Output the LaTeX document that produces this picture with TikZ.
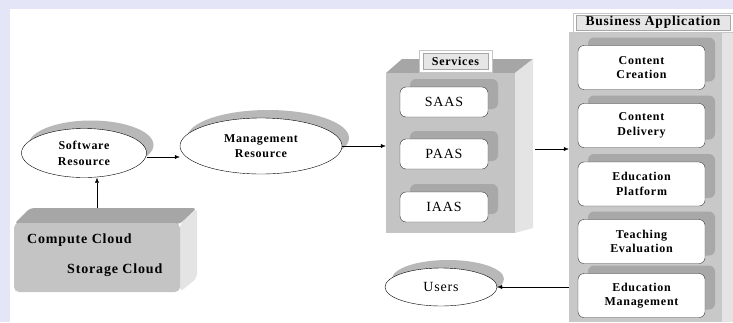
\documentclass[tikz,border=0pt]{standalone}
\usepackage{fontspec}
\setmainfont{Liberation Serif}[LetterSpace=6]
\usetikzlibrary{shapes.geometric,shadows,arrows.meta}

\definecolor{bgtint}{HTML}{E4E6F8}
\definecolor{frontgray}{HTML}{C4C4C4}
\definecolor{topgray}{HTML}{A6A6A6}
\definecolor{sidegray}{HTML}{E4E4E4}
\definecolor{colgray}{HTML}{C8C8C8}
\definecolor{shadowgray}{HTML}{B8B8B8}
\definecolor{modshadow}{HTML}{A8A8A8}
\definecolor{tabgray}{HTML}{E6E6E6}

\newcommand\boxfont{\bfseries\fontsize{12}{14.5}\selectfont}
\newcommand\headfont{\bfseries\fontsize{13.5}{15}\selectfont}
\newcommand\cloudfont{\bfseries\fontsize{14}{16}\selectfont}
\newcommand\tierfont{\fontsize{14}{16}\selectfont}

\begin{document}
\begin{tikzpicture}[x=1pt,y=-1pt,
    resource/.style={ellipse, draw, thin, fill=white, inner sep=0pt, align=center,
      font=\boxfont,
      drop shadow={shadow xshift=7pt, shadow yshift=8pt, fill=shadowgray, opacity=1}},
    module/.style={rectangle, rounded corners=6pt, draw=black!80, thin, fill=white,
      inner sep=0pt, align=center,
      drop shadow={shadow xshift=10pt, shadow yshift=8pt, fill=modshadow, opacity=1}},
    flow/.style={-{Latex[length=5pt,width=4pt]}, thin}]
    \tikzstyle{face}=[inner sep=0pt]
    % page and faint background
    \fill[bgtint] (0,0) rectangle (733,322);
    \fill[white] (10,9) rectangle (733,322);
    \useasboundingbox (0,0) rectangle (733,322);

    % cloud block
    \fill[topgray, rounded corners=4pt] (14,224) -- (30,208) -- (197,208) -- (180,224) -- cycle;
    \fill[sidegray, rounded corners=4pt] (180,224) -- (197,208) -- (197,278) -- (180,292) -- cycle;
    \node[face, rounded corners=5pt, fill=frontgray, minimum width=166, minimum height=69]
      (cloud) at (97,257.5) {};
    \node[face, anchor=west, font=\cloudfont] (compute) at (27,240) {Compute Cloud};
    \node[face, anchor=west, font=\cloudfont] (storage) at (67,270) {Storage Cloud};
    \coordinate (cloudtop) at (97,208);

    % resources
    \node[resource, minimum width=125, minimum height=49] (software) at (84,153)
      {Software\\[1.5pt]Resource};
    \node[resource, minimum width=162, minimum height=56] (management) at (261,146)
      {Management\\Resource};

    % services block
    \fill[topgray] (386,73) -- (402,59) -- (533,59) -- (515,73) -- cycle;
    \fill[sidegray] (515,73) -- (533,59) -- (533,228) -- (515,233) -- cycle;
    \node[face, fill=frontgray, minimum width=129, minimum height=160] (services) at (450.5,153) {};
    \node[face, fill=white, draw=gray!45, minimum width=73, minimum height=22] (servicestab) at (455.5,61) {};
    \node[face, fill=tabgray, draw=gray!70, minimum width=65, minimum height=16, font=\boxfont]
      (serviceslabel) at (servicestab) {Services};
    \foreach \tier/\y in {SAAS/102, PAAS/154, IAAS/207}
      \node[module, minimum width=88, minimum height=30, font=\tierfont] (\tier) at (444,\y) {\tier};
    \coordinate (servicesout) at (535,149);

    % business application column
    \fill[sidegray] (722,32) rectangle (733,322);
    \node[face, fill=colgray, minimum width=153, minimum height=290] (business) at (645.5,177) {};
    \node[face, fill=white, draw=gray!45, minimum width=160, minimum height=19] (businesstab) at (653,22.5) {};
    \node[face, fill=tabgray, draw=gray!70, minimum width=154, minimum height=15, font=\headfont]
      (businesslabel) at (businesstab) {Business Application};
    \foreach \app/\y/\txt in {creation/67.5/Content\\Creation,
                              delivery/125.5/Content\\Delivery,
                              platform/184/Education\\Platform,
                              evaluation/241.5/Teaching\\Evaluation,
                              edumanagement/295.5/Education\\Management}
      \node[module, minimum width=127, minimum height=44, font=\boxfont] (\app) at (641.5,\y) {\txt};

    % users
    \node[resource, minimum width=112, minimum height=38, font=\tierfont]
      (users) at (441,287) {Users};

    % connectors
    \draw[flow] (cloudtop) -- (cloudtop |- software.south);
    \draw[flow] ([yshift=-4pt]software.east) -- ([yshift=-4pt]software.east -| management.west);
    \draw[flow] (management.east) -- (management.east -| services.west);
    \draw[flow] (servicesout) -- (servicesout -| business.west);
    \draw[flow] (users.east -| business.west) -- (users.east);
  \end{tikzpicture}
\end{document}
